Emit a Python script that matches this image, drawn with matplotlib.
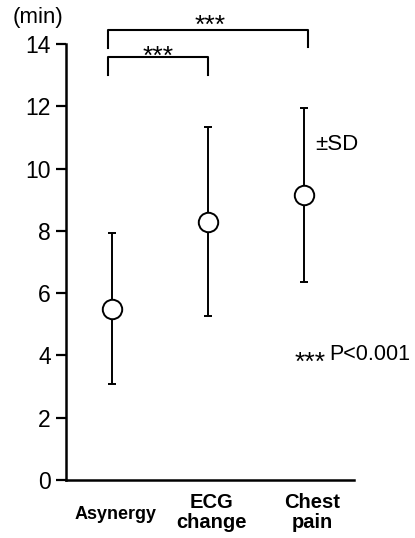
import matplotlib
matplotlib.use("Agg")
import matplotlib.pyplot as plt

categories = ["Asynergy", "ECG\nchange", "Chest\npain"]
means = [5.5, 8.3, 9.15]
sds = [2.42, 3.02, 2.8]
yticks = [0, 2, 4, 6, 8, 10, 12, 14]

plt.rcParams['font.family'] = ['Liberation Sans', 'DejaVu Sans']

W, H = 415, 538
fig = plt.figure(figsize=(W / 100, H / 100), dpi=100)
ax = fig.add_axes([66/W, 58/H, 288/W, 436/H])

x = [1, 2, 3]
ax.errorbar(x, means, yerr=sds, fmt='o', color='black', ecolor='black',
            elinewidth=1.4, capsize=3.0, capthick=1.4, markersize=14,
            markerfacecolor='white', markeredgecolor='black', markeredgewidth=1.4,
            zorder=3)

ax.set_xlim(0.52, 3.52)
ax.set_ylim(0, 14)
ax.set_yticks(yticks)
ax.set_yticklabels([str(t) for t in yticks], fontsize=16.5)
ax.set_xticks([])
for s in ['top', 'right']:
    ax.spines[s].set_visible(False)
for s in ['left', 'bottom']:
    ax.spines[s].set_linewidth(1.8)
ax.tick_params(axis='y', direction='out', length=7, width=1.6, pad=4)

def ftext(xpx, ypx, s, **kw):
    fig.text(xpx / W, 1 - ypx / H, s, **kw)

# x labels (baselines in pixels)
lab_kw = dict(ha='center', va='baseline', fontweight='bold')
ftext(116, 519, categories[0], fontsize=13, **lab_kw)
l1, l2 = categories[1].split("\n")
ftext(211, 508, l1, fontsize=14.5, **lab_kw)
ftext(211, 528, l2, fontsize=14.5, **lab_kw)
l1, l2 = categories[2].split("\n")
ftext(312, 508, l1, fontsize=14.5, **lab_kw)
ftext(312, 528, l2, fontsize=14.5, **lab_kw)

# unit label
ftext(13, 17, "(min)", fontsize=16, ha='left', va='center')

star_kw = dict(ha='center', va='baseline', fontsize=19)

def stars(xc, yc):
    # asterisk glyph sits high; shift baseline so the glyph centre is at yc
    ftext(xc, yc + 15, "***", **star_kw)

# brackets
def bracket(x1, x2, ybot1, ybot2, ytop):
    ax.plot([x1, x1, x2, x2], [ybot1, ytop, ytop, ybot2], color='black',
            lw=1.5, clip_on=False)

bracket(0.96, 2.0, 13.02, 13.02, 13.57)
bracket(0.96, 3.04, 13.86, 13.9, 14.45)
stars(158, 49)
stars(210, 18)

ftext(315, 145, "±SD", fontsize=16, ha='left', va='center')
stars(310, 355)
ftext(329, 355, "P<0.001", fontsize=15.5, ha='left', va='center')

fig.savefig("out.png", dpi=100)
